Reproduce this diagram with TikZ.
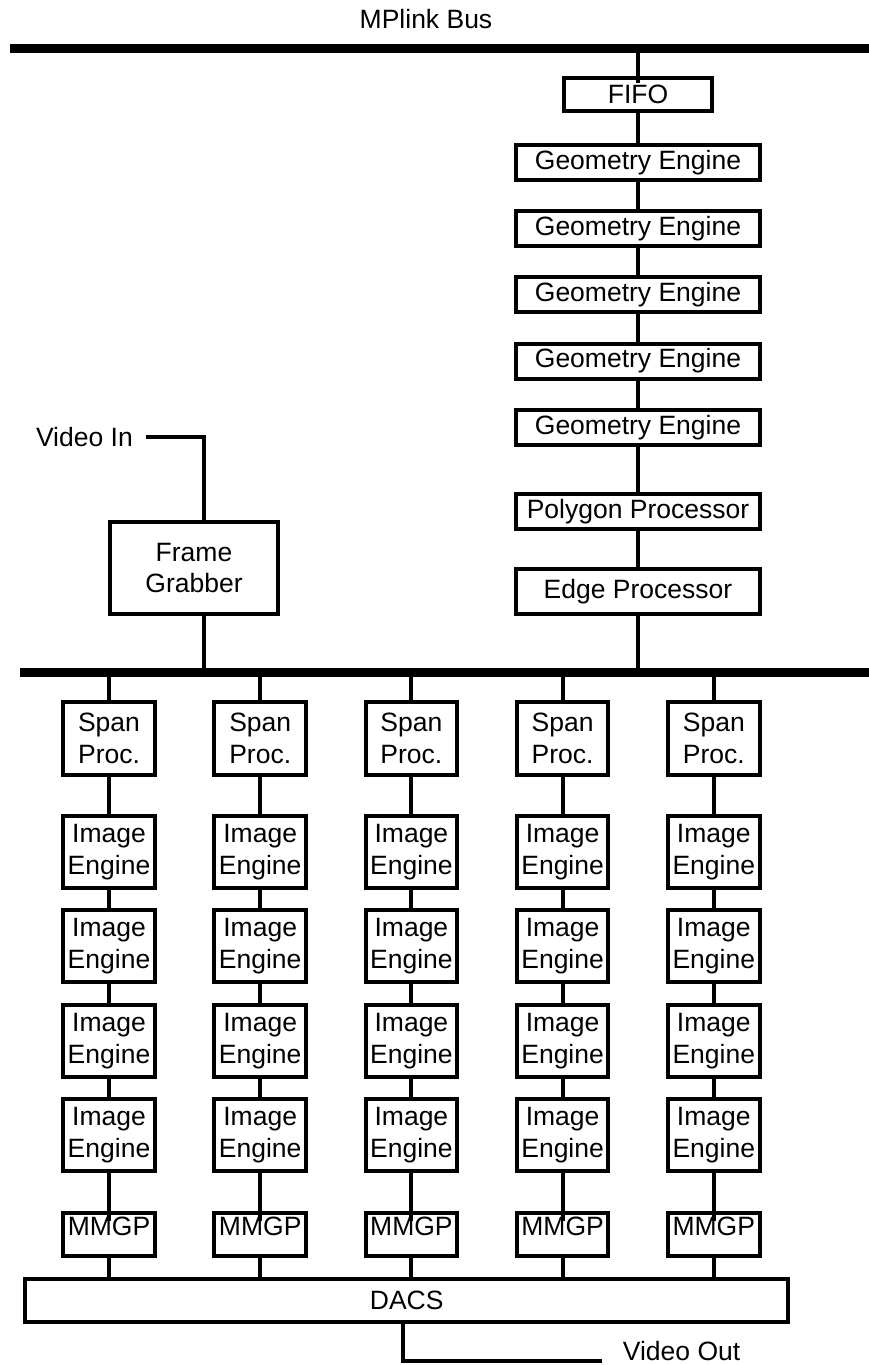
\documentclass[tikz,border=0pt]{standalone}
\usepackage{fontspec}
\setmainfont{Liberation Sans}
\begin{document}
\begin{tikzpicture}[x=1pt,y=-1pt,
  every node/.style={font=\fontsize{26.5}{31.7}\selectfont, inner sep=0pt},
  blk/.style={draw, line width=4pt, align=center, line join=miter},
  wide/.style={blk, minimum width=244.7pt, minimum height=35pt},
  cell/.style={blk, minimum width=91.7pt, minimum height=72pt},
  wire/.style={line width=4pt, line join=miter},
  bus/.style={line width=9pt},
]
\useasboundingbox (0,0) rectangle (869,1365);

% buses
\coordinate (bus1L) at (10,48.5);
\coordinate (bus1R) at (869,48.5);
\coordinate (bus2L) at (20,672);
\coordinate (bus2R) at (869,672);
\node[anchor=base] (mplink) at (426,28.3) {MPlink Bus};
\draw[bus] (bus1L) -- (bus1R);
\draw[bus] (bus2L) -- (bus2R);

% geometry pipeline
\node[blk, minimum width=148.6pt, minimum height=33.3pt] (fifo) at (638,94.7) {FIFO};
\node[wide] (ge1) at (638,162.2) {Geometry Engine};
\node[wide] (ge2) at (638,228.5) {Geometry Engine};
\node[wide] (ge3) at (638,294.7) {Geometry Engine};
\node[wide] (ge4) at (638,361) {Geometry Engine};
\node[wide] (ge5) at (638,427.2) {Geometry Engine};
\node[wide] (poly) at (638,511.3) {Polygon Processor};
\node[wide, minimum height=45pt] (edge) at (638,591.5) {Edge Processor};

\draw[wire] (fifo.north |- bus1L) -- ([yshift=-7pt]fifo.north);
\draw[wire] (fifo) -- (ge1);
\draw[wire] (ge1) -- (ge2);
\draw[wire] (ge2) -- (ge3);
\draw[wire] (ge3) -- (ge4);
\draw[wire] (ge4) -- (ge5);
\draw[wire] (ge5) -- (poly);
\draw[wire] (poly) -- (edge);
\draw[wire] (edge.south) -- (edge.south |- bus2L);

% video input
\node[blk, minimum width=168pt, minimum height=92pt] (fg) at (194,568) {Frame\\Grabber};
\node[anchor=east] (vin) at (133,436.7) {Video In};
\coordinate (vinA) at (145.7,436.7);
\coordinate (fgtap) at (204,436.7);
\draw[wire] (vinA) -- (fgtap) -- (fgtap |- fg.north);
\draw[wire] ([xshift=10pt]fg.south) -- ([xshift=10pt]fg.south |- bus2L);

% output stage
\node[blk, minimum width=762.7pt, minimum height=43.3pt] (dacs) at (406.7,1300.3) {DACS};
\coordinate (vo1) at (402.7,1361);
\coordinate (vo2) at (602.3,1361);
\draw[wire] (dacs.south -| vo1) -- (vo1) -- (vo2);
\node[anchor=base west] (vout) at (622.7,1360) {Video Out};

% span processor columns
\foreach \i/\x in {1/109,2/260.2,3/411.4,4/562.6,5/713.8} {
  \node[cell, minimum height=72.7pt] (sp\i) at (\x,738.3) {Span\\Proc.};
  \node[cell] (ie\i1) at (\x,852) {Image\\Engine};
  \node[cell] (ie\i2) at (\x,946.4) {Image\\Engine};
  \node[cell] (ie\i3) at (\x,1040.8) {Image\\Engine};
  \node[cell] (ie\i4) at (\x,1135.2) {Image\\Engine};
  \node[cell, minimum height=43.6pt, text depth=16pt] (mm\i) at (\x,1234.5) {MMGP};
  \draw[wire] (sp\i.north) -- (sp\i.north |- bus2L);
  \draw[wire] (sp\i) -- (ie\i1);
  \draw[wire] (ie\i1) -- (ie\i2);
  \draw[wire] (ie\i2) -- (ie\i3);
  \draw[wire] (ie\i3) -- (ie\i4);
  \draw[wire] (ie\i4.south) -- ([yshift=-10pt]mm\i.north);
  \draw[wire] (mm\i.south) -- (mm\i.south |- dacs.north);
}
\end{tikzpicture}
\end{document}
